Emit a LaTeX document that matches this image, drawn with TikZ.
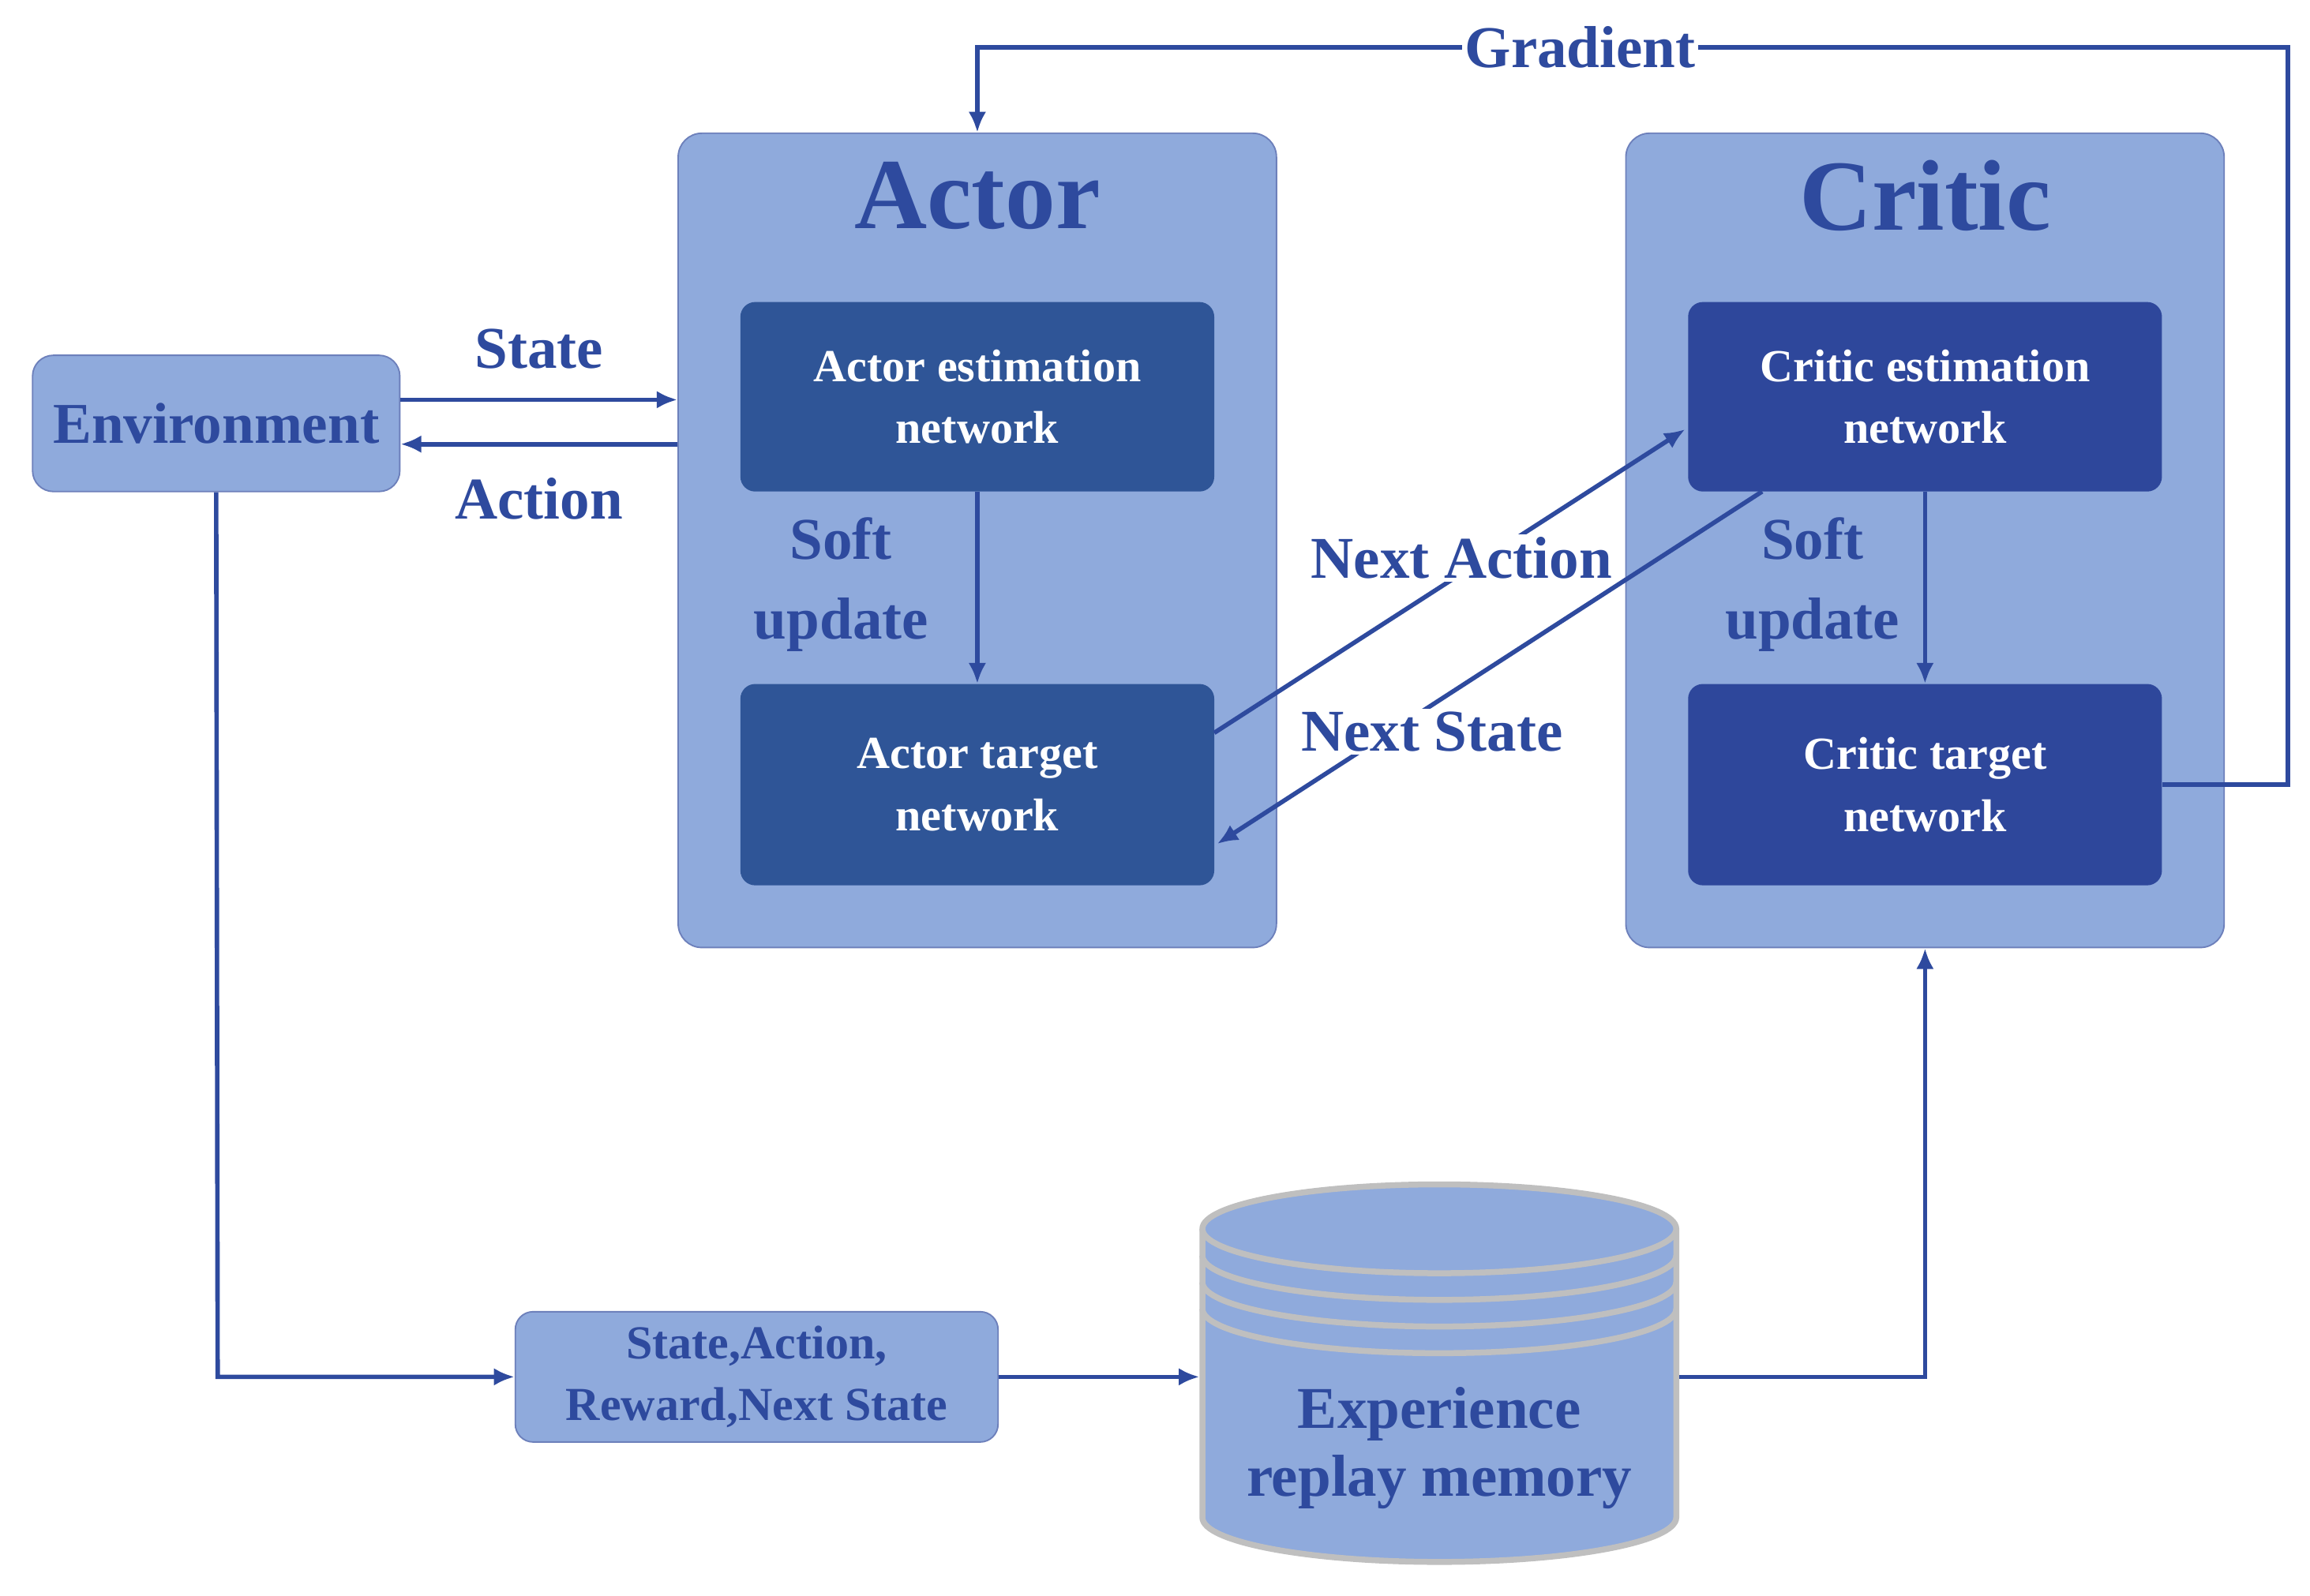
\documentclass[tikz,border=0pt]{standalone}
\usepackage{fontspec}
\setmainfont{Liberation Serif}
\usetikzlibrary{arrows.meta}
\definecolor{txt}{HTML}{2E4A9E}
\definecolor{lite}{HTML}{8FAADC}
\definecolor{darkA}{HTML}{2F5597}
\definecolor{darkC}{HTML}{2E479B}
\begin{document}
\begin{tikzpicture}[x=1pt,y=-1pt,
 lbl/.style={text=txt,font=\bfseries\fontsize{40}{46}\selectfont,align=center},
 big/.style={draw=txt!70,fill=lite,rounded corners=16pt,line width=1pt},
 net/.style={fill=#1,rounded corners=10pt,minimum width=320pt,text=white,font=\bfseries\fontsize{31}{42}\selectfont,align=center},
 ar/.style={draw=txt,line width=3pt,-{Latex[length=14pt,width=12pt]}},
 ln/.style={draw=txt,line width=3pt}]
\useasboundingbox (0,0) rectangle (1560,1078);
\node[big,minimum width=404pt,minimum height=550pt] (actor) at (660,365) {};
\node[big,minimum width=404pt,minimum height=550pt] (critic) at (1300,365) {};
\node[lbl,font=\bfseries\fontsize{68}{70}\selectfont] at (660,132) {Actor};
\node[lbl,font=\bfseries\fontsize{68}{70}\selectfont] at (1300,132) {Critic};
\node[net=darkA,minimum height=128pt] (ae) at (660,268) {Actor estimation\\network};
\node[net=darkA,minimum height=136pt] (at) at (660,530) {Actor target\\network};
\node[net=darkC,minimum height=128pt] (ce) at (1300,268) {Critic estimation\\network};
\node[net=darkC,minimum height=136pt] (ct) at (1300,530) {Critic target\\network};
\node[big,rounded corners=14pt,minimum width=248pt,minimum height=92pt,lbl,font=\bfseries\fontsize{39}{40}\selectfont,inner sep=0pt] (env) at (146,286) {Environment};
\node[big,rounded corners=12pt,minimum width=326pt,minimum height=88pt,lbl,font=\bfseries\fontsize{32}{42}\selectfont] (tup) at (511,930) {State,Action,\\Reward,Next State};
% cylinder
\begin{scope}[draw=black!25,line width=4pt]
\fill[lite] (812,830) -- (812,1025) arc[start angle=180,end angle=0,x radius=160,y radius=30] -- (1132,830) -- cycle;
\draw (812,830) -- (812,1025) arc[start angle=180,end angle=0,x radius=160,y radius=30] -- (1132,830);
\foreach \yy in {848,866,884}{\draw (812,\yy) arc[start angle=180,end angle=0,x radius=160,y radius=30];}
\draw[fill=lite] (972,830) ellipse[x radius=160,y radius=30];
\end{scope}
\coordinate (cylL) at (810,930);
\coordinate (cylR) at (1134,930);
\node[lbl] at (972,978) {Experience\\replay memory};
% arrows
\draw[ar] (env.east|-0,270) -- (actor.west|-0,270) node[midway,above=16pt,lbl]{State};
\draw[ar] (actor.west|-0,300) -- (env.east|-0,300) node[midway,below=18pt,lbl]{Action};
\draw[ar] (ae) -- (at);
\node[lbl,font=\bfseries\fontsize{40}{54}\selectfont] at (568,395) {Soft\\update};
\draw[ar] (ce) -- (ct);
\node[lbl,font=\bfseries\fontsize{40}{54}\selectfont] at (1224,395) {Soft\\update};
\draw[ar] (820,495) -- (1138,290);
\node[fill=white,inner sep=2pt,lbl] at (987,377) {Next Action};
\draw[ar] (1190,332) -- (822,570);
\node[fill=white,inner sep=2pt,lbl] at (967,494) {Next State};
\draw[ar] (ct.east) -- (1545,530) -- (1545,32) -- (660,32) node[pos=0.54,fill=white,inner sep=2pt,lbl]{Gradient} -- (actor.north);
\draw[ar] (env.south) -- (147,930) -- (tup.west);
\draw[ar] (tup.east) -- (cylL);
\draw[ar] (cylR) -- (1300,930) -- (critic.south);
\end{tikzpicture}
\end{document}
